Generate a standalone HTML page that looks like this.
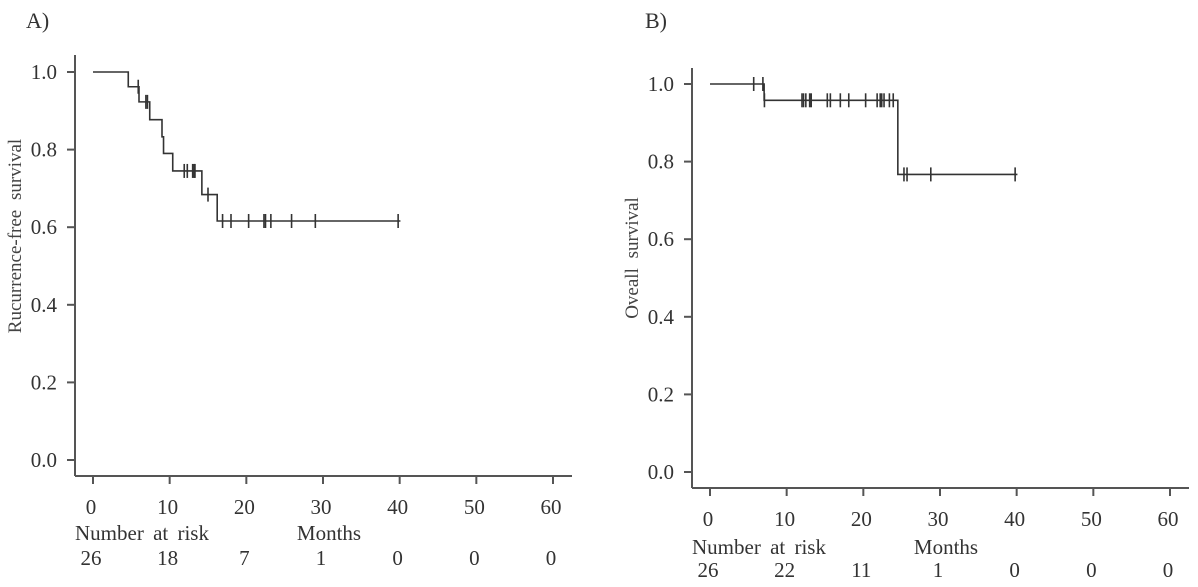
<!DOCTYPE html>
<html><head><meta charset="utf-8">
<style>
html,body{margin:0;padding:0;background:#fff;}
svg{display:block;font-family:"Liberation Serif",serif;}
</style></head>
<body>
<svg id="chart" width="1198" height="587" viewBox="0 0 1198 587" xmlns="http://www.w3.org/2000/svg"></svg>
<script>
// Panel A data (Recurrence-free survival)
const xTicks = [0,10,20,30,40,50,60];
const yTicks = [0.0,0.2,0.4,0.6,0.8,1.0];
const yTickLabels = ["0.0","0.2","0.4","0.6","0.8","1.0"];
const riskA = [26,18,7,1,0,0,0];
const riskB = [26,22,11,1,0,0,0];
const stepTimesA = [0,4.6,6.0,7.4,9.0,9.2,10.4,14.2,16.2];
const stepSurvA  = [1.0,0.962,0.923,0.877,0.833,0.79,0.745,0.684,0.616];
const endTimeA = 40.1;
const censorTimesA = [5.9,6.9,7.1,11.9,12.3,13.0,13.2,13.3,15.0,16.9,18.0,20.3,22.3,22.5,23.2,25.9,29.0,39.8];
// Panel B data (Overall survival)
const stepTimesB = [0,7.06,24.5];
const stepSurvB  = [1.0,0.958,0.767];
const endTimeB = 40.1;
const censorTimesB = [5.7,6.9,7.1,12.0,12.2,12.5,13.0,13.2,15.3,15.7,17.0,18.1,20.3,21.8,22.2,22.4,22.7,23.4,23.9,25.3,25.7,28.8,39.8];

const NS="http://www.w3.org/2000/svg";
const svg=document.getElementById('chart');
function el(tag,attrs,parent){const e=document.createElementNS(NS,tag);for(const k in attrs)e.setAttribute(k,attrs[k]);(parent||svg).appendChild(e);return e;}

function survAt(times,surv,t){let s=surv[0];for(let i=0;i<times.length;i++){if(times[i]<=t)s=surv[i];}return s;}

function panel(cfg){
  const g=el('g',{});
  
  
  const xs=v=>cfg.x0+(cfg.x60-cfg.x0)*v/60;
  const ys=v=>cfg.y0+(cfg.y1-cfg.y0)*v;
  // panel label
  const pl=el('text',{x:cfg.labelX,y:28,'font-size':22,fill:'#333'},g);pl.textContent=cfg.label;
  
  
  // axes
  const ya=el('line',{x1:cfg.axX,y1:cfg.axTop,x2:cfg.axX,y2:cfg.axY,stroke:'#555','stroke-width':2},g);
  
  
  const xa=el('line',{x1:cfg.axX,y1:cfg.axY,x2:cfg.axRight,y2:cfg.axY,stroke:'#555','stroke-width':2},g);
  
  
  yTicks.forEach((v,i)=>{
    el('line',{x1:cfg.axX-8,y1:ys(v),x2:cfg.axX,y2:ys(v),stroke:'#555','stroke-width':2},g);
    const t=el('text',{x:cfg.axX-18,y:ys(v)+7,'font-size':21,fill:'#333','text-anchor':'end'},g);
    t.textContent=yTickLabels[i];
    
    
  });
  xTicks.forEach((v,i)=>{
    el('line',{x1:xs(v),y1:cfg.axY,x2:xs(v),y2:cfg.axY+8,stroke:'#555','stroke-width':2},g);
    const t=el('text',{x:xs(v)-2,y:cfg.tickLabelY,'font-size':21,fill:'#333','text-anchor':'middle'},g);
    t.textContent=String(v);
    
    
    const r=el('text',{x:xs(v)-2,y:cfg.riskY,'font-size':21,fill:'#333','text-anchor':'middle'},g);
    r.textContent=String(cfg.risk[i]);
    
    
  });
  const nr=el('text',{x:cfg.x0-18,y:cfg.riskLabelY,'font-size':21,fill:'#333','word-spacing':'4'},g);
  nr.textContent='Number at risk';
  
  
  const mo=el('text',{x:xs(30)+6,y:cfg.riskLabelY,'font-size':21,fill:'#333','text-anchor':'middle'},g);
  mo.textContent='Months';
  
  
  const yt=el('text',{x:0,y:0,'font-size':19,fill:'#444','text-anchor':'middle','word-spacing':'5',transform:`translate(${cfg.ytX},${cfg.ytY}) rotate(-90)`},g);
  yt.textContent=cfg.ytitle;
  
  
  // curve
  let d=`M${xs(cfg.times[0])},${ys(cfg.surv[0])}`;
  for(let i=1;i<cfg.times.length;i++){d+=` H${xs(cfg.times[i])} V${ys(cfg.surv[i])}`;}
  d+=` H${xs(cfg.end)}`;
  const p=el('path',{d:d,fill:'none',stroke:'#333','stroke-width':1.6},g);
  
  
  cfg.censor.forEach(t=>{
    const s=survAt(cfg.times,cfg.surv,t);
    const c=el('line',{x1:xs(t),y1:ys(s)-7,x2:xs(t),y2:ys(s)+7,stroke:'#333','stroke-width':1.6},g);
    
    
  });
}

panel({name:'panel-a-recurrence-free',label:'A)',labelX:26,x0:93,x60:553,y0:460,y1:72,axX:75,axTop:55,axY:476,axRight:572,
  tickLabelY:514,riskLabelY:540,riskY:565,risk:riskA,ytitle:'Rucurrence-free survival',ytX:21,ytY:236,
  times:stepTimesA,surv:stepSurvA,end:endTimeA,censor:censorTimesA});
panel({name:'panel-b-overall-survival',label:'B)',labelX:645,x0:710,x60:1170,y0:472,y1:84,axX:692,axTop:68,axY:488,axRight:1189,
  tickLabelY:526,riskLabelY:554,riskY:577,risk:riskB,ytitle:'Oveall survival',ytX:638,ytY:258,
  times:stepTimesB,surv:stepSurvB,end:endTimeB,censor:censorTimesB});
</script>
</body></html>
